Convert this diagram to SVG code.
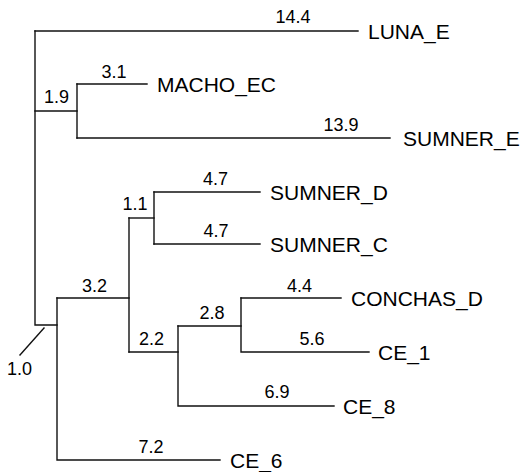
<svg xmlns="http://www.w3.org/2000/svg" width="522" height="472" viewBox="0 0 522 472">
<style>
.br{fill:none;stroke:#111;stroke-width:1.4;stroke-linecap:square}
.lf{font-family:"Liberation Sans",Arial,sans-serif;font-size:21px;fill:#000}
.num{font-family:"Liberation Sans",Arial,sans-serif;font-size:18px;fill:#000;text-anchor:middle}
</style>
<rect width="522" height="472" fill="#fff"/>
<g id="connectors">
<path class="br" d="M35,31 V325 H57"/>
<path class="br" d="M35,31 H358"/>
<path class="br" d="M35,111 H77"/>
<path class="br" d="M77,84 V138"/>
<path class="br" d="M77,84 H147"/>
<path class="br" d="M77,138 H390"/>
<path class="br" d="M57,298 V460 H220"/>
<path class="br" d="M57,298 H129"/>
<path class="br" d="M129,218 V352"/>
<path class="br" d="M129,218 H154"/>
<path class="br" d="M154,192 V244"/>
<path class="br" d="M154,192 H260"/>
<path class="br" d="M154,244 H260"/>
<path class="br" d="M129,352 H178"/>
<path class="br" d="M178,326 V406 H334"/>
<path class="br" d="M178,326 H241"/>
<path class="br" d="M241,298 V352 H369"/>
<path class="br" d="M241,298 H341"/>
<path class="br" d="M44,328 L20,355" stroke-width="1.1"/>
</g>
<g id="branch-labels">
<text class="num" x="293" y="23">14.4</text>
<text class="num" x="56.5" y="103">1.9</text>
<text class="num" x="114" y="78">3.1</text>
<text class="num" x="341" y="131">13.9</text>
<text class="num" x="215.5" y="185">4.7</text>
<text class="num" x="216" y="237">4.7</text>
<text class="num" x="135" y="210">1.1</text>
<text class="num" x="94.5" y="292">3.2</text>
<text class="num" x="212" y="319">2.8</text>
<text class="num" x="299.5" y="292">4.4</text>
<text class="num" x="151.5" y="345">2.2</text>
<text class="num" x="312" y="345">5.6</text>
<text class="num" x="277" y="398">6.9</text>
<text class="num" x="151" y="453">7.2</text>
<text class="num" x="19.5" y="375">1.0</text>
</g>
<g id="LUNA_E"><text class="lf" x="368" y="39">LUNA_E</text></g>
<g id="MACHO_EC"><text class="lf" x="157" y="92">MACHO_EC</text></g>
<g id="SUMNER_E"><text class="lf" x="403" y="146">SUMNER_E</text></g>
<g id="SUMNER_D"><text class="lf" x="270" y="200">SUMNER_D</text></g>
<g id="SUMNER_C"><text class="lf" x="270" y="252">SUMNER_C</text></g>
<g id="CONCHAS_D"><text class="lf" x="351" y="306">CONCHAS_D</text></g>
<g id="CE_1"><text class="lf" x="378" y="360">CE_1</text></g>
<g id="CE_8"><text class="lf" x="343" y="414">CE_8</text></g>
<g id="CE_6"><text class="lf" x="230" y="468">CE_6</text></g>
</svg>
